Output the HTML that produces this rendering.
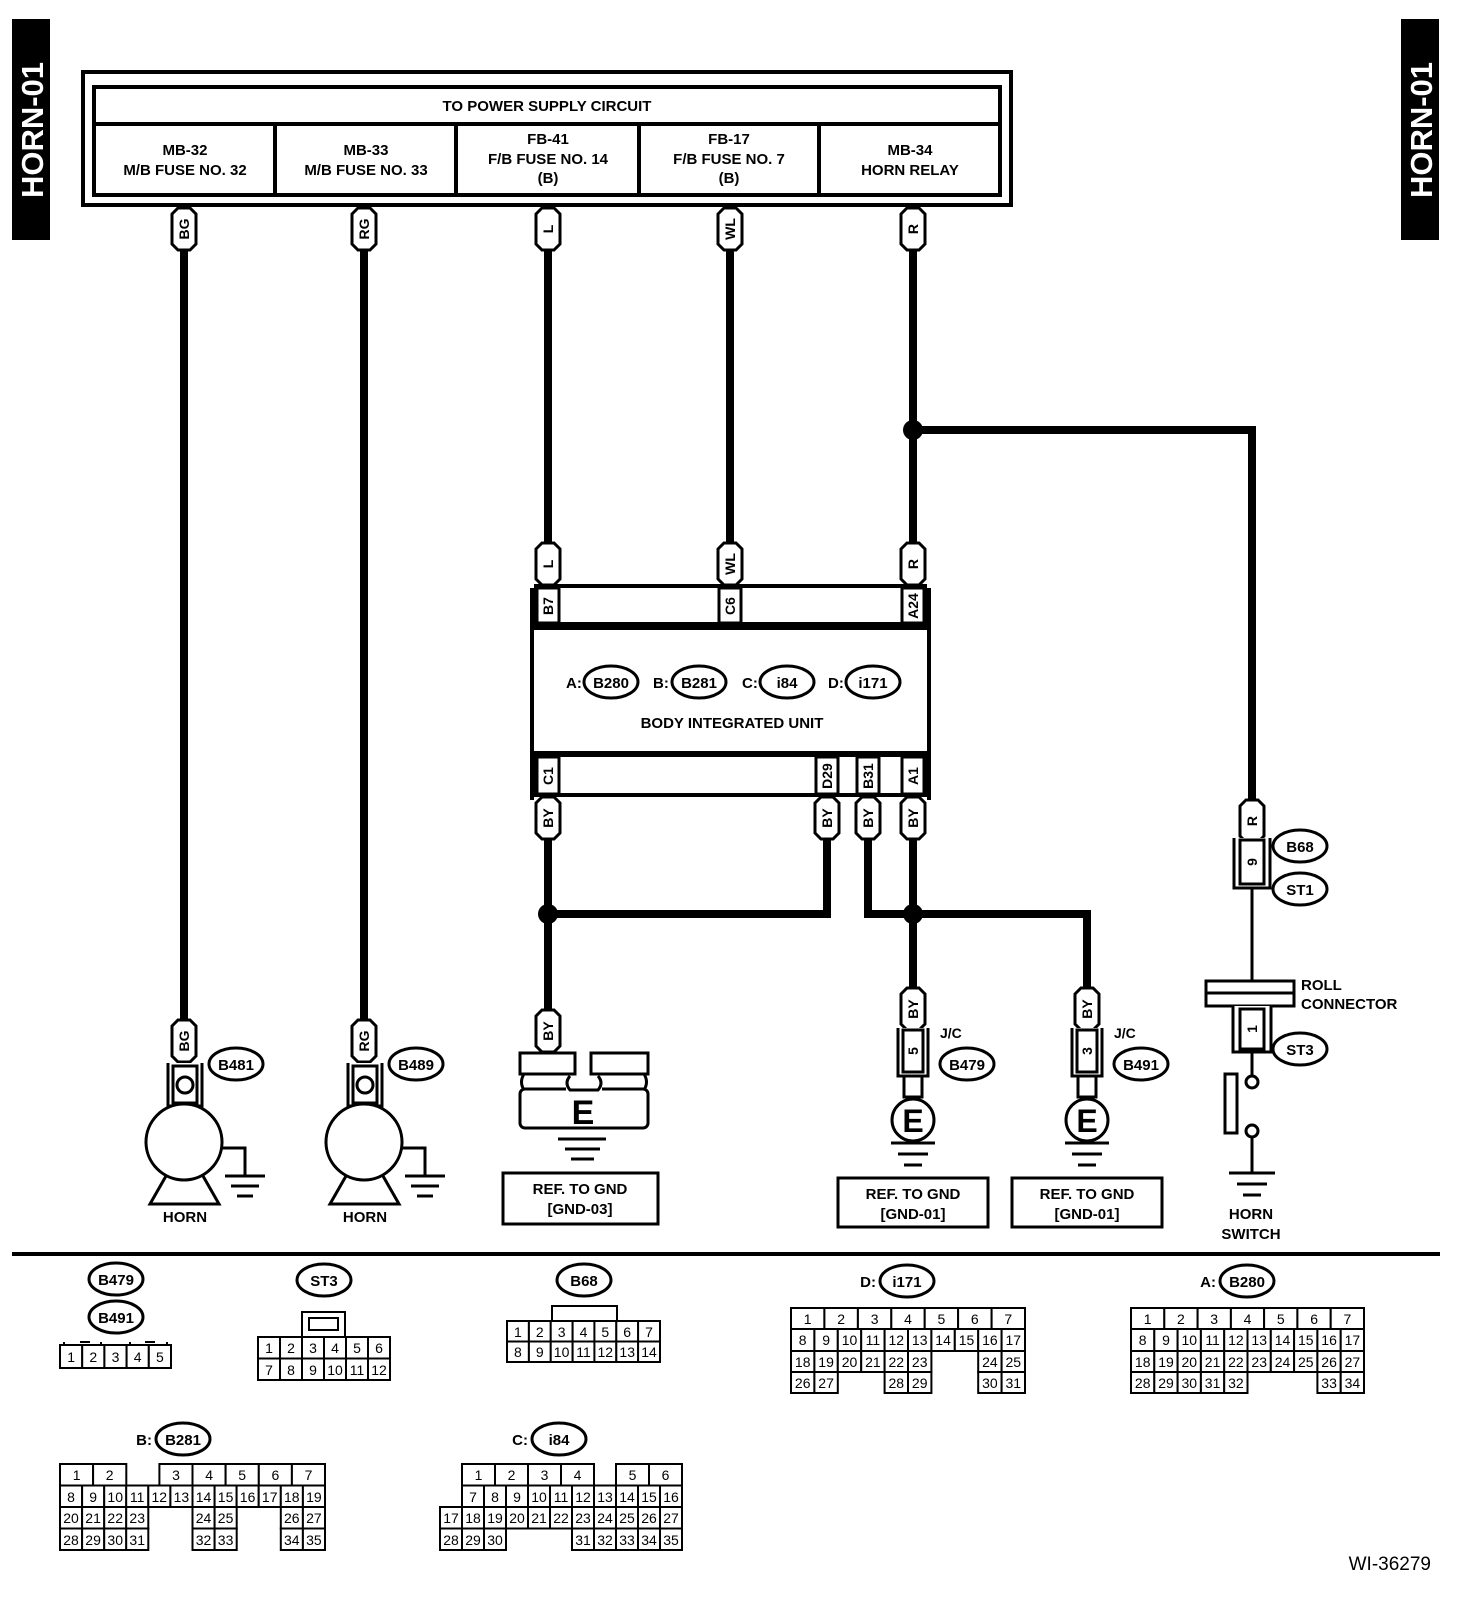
<!DOCTYPE html>
<html><head><meta charset="utf-8">
<style>
html,body{margin:0;padding:0;background:#fff;}
svg{display:block;}
text{font-family:"Liberation Sans",Arial,sans-serif;fill:#000;}
.b{font-weight:bold;font-size:15px;}
.t{font-weight:bold;font-size:14px;}
.n{font-size:14px;}
.w{fill:none;stroke:#000;stroke-width:8;}
.th{fill:none;stroke:#000;stroke-width:3;}
.s{fill:#fff;stroke:#000;stroke-width:3;}
.c rect{fill:#fff;stroke:#000;stroke-width:2;}
.c text{font-size:14px;text-anchor:middle;}
</style></head>
<body>
<svg width="1472" height="1622" viewBox="0 0 1472 1622" xmlns="http://www.w3.org/2000/svg">
<defs>
<g id="tag"><path d="M-12,6 L-6,0 L6,0 L12,6 L12,36 L6,42 L-6,42 L-12,36 Z" fill="#fff" stroke="#000" stroke-width="3"/></g>
</defs>

<rect x="12" y="19" width="38" height="221" fill="#000"/>
<text transform="translate(43,130) rotate(-90)" text-anchor="middle" style="font-weight:bold;font-size:31px;fill:#fff">HORN-01</text>
<rect x="1401" y="19" width="38" height="221" fill="#000"/>
<text transform="translate(1432,130) rotate(-90)" text-anchor="middle" style="font-weight:bold;font-size:31px;fill:#fff">HORN-01</text>

<rect x="83" y="72" width="928" height="133" fill="#fff" stroke="#000" stroke-width="4"/>
<rect x="94" y="87" width="906" height="108" fill="#fff" stroke="#000" stroke-width="4"/>
<line x1="94" y1="124" x2="1000" y2="124" stroke="#000" stroke-width="4"/>
<g stroke="#000" stroke-width="4"><line x1="275" y1="124" x2="275" y2="195"/><line x1="456" y1="124" x2="456" y2="195"/><line x1="639" y1="124" x2="639" y2="195"/><line x1="819" y1="124" x2="819" y2="195"/></g>
<g class="b" text-anchor="middle">
<text x="547" y="111">TO POWER SUPPLY CIRCUIT</text>
<text x="185" y="155">MB-32</text><text x="185" y="175">M/B FUSE NO. 32</text>
<text x="366" y="155">MB-33</text><text x="366" y="175">M/B FUSE NO. 33</text>
<text x="548" y="144">FB-41</text><text x="548" y="164">F/B FUSE NO. 14</text><text x="548" y="183">(B)</text>
<text x="729" y="144">FB-17</text><text x="729" y="164">F/B FUSE NO. 7</text><text x="729" y="183">(B)</text>
<text x="910" y="155">MB-34</text><text x="910" y="175">HORN RELAY</text>
</g>

<g class="w">
<line x1="184" y1="240" x2="184" y2="1020"/>
<line x1="364" y1="240" x2="364" y2="1020"/>
<line x1="548" y1="240" x2="548" y2="545"/>
<line x1="730" y1="240" x2="730" y2="545"/>
<line x1="913" y1="240" x2="913" y2="545"/>
<path d="M913 430 H1252 V805"/>
<line x1="548" y1="830" x2="548" y2="1012"/>
<path d="M827 830 V914 H548"/>
<path d="M868 830 V914 H1087 V992"/>
<line x1="913" y1="830" x2="913" y2="992"/>
</g>
<circle cx="913" cy="430" r="10"/>
<circle cx="548" cy="914" r="10"/>
<circle cx="913" cy="914" r="10"/>

<g>
<use href="#tag" x="184" y="208"/><text transform="translate(189,229) rotate(-90)" class="t" text-anchor="middle">BG</text>
<use href="#tag" x="364" y="208"/><text transform="translate(369,229) rotate(-90)" class="t" text-anchor="middle">RG</text>
<use href="#tag" x="548" y="208"/><text transform="translate(553,229) rotate(-90)" class="t" text-anchor="middle">L</text>
<use href="#tag" x="730" y="208"/><text transform="translate(735,229) rotate(-90)" class="t" text-anchor="middle">WL</text>
<use href="#tag" x="913" y="208"/><text transform="translate(918,229) rotate(-90)" class="t" text-anchor="middle">R</text>
<use href="#tag" x="548" y="543"/><text transform="translate(553,564) rotate(-90)" class="t" text-anchor="middle">L</text>
<use href="#tag" x="730" y="543"/><text transform="translate(735,564) rotate(-90)" class="t" text-anchor="middle">WL</text>
<use href="#tag" x="913" y="543"/><text transform="translate(918,564) rotate(-90)" class="t" text-anchor="middle">R</text>
<use href="#tag" x="548" y="797"/><text transform="translate(553,818) rotate(-90)" class="t" text-anchor="middle">BY</text>
<use href="#tag" x="827" y="797"/><text transform="translate(832,818) rotate(-90)" class="t" text-anchor="middle">BY</text>
<use href="#tag" x="868" y="797"/><text transform="translate(873,818) rotate(-90)" class="t" text-anchor="middle">BY</text>
<use href="#tag" x="913" y="797"/><text transform="translate(918,818) rotate(-90)" class="t" text-anchor="middle">BY</text>
<use href="#tag" x="1252" y="800"/><text transform="translate(1257,821) rotate(-90)" class="t" text-anchor="middle">R</text>
<use href="#tag" x="184" y="1020"/><text transform="translate(189,1041) rotate(-90)" class="t" text-anchor="middle">BG</text>
<use href="#tag" x="364" y="1020"/><text transform="translate(369,1041) rotate(-90)" class="t" text-anchor="middle">RG</text>
<use href="#tag" x="548" y="1010"/><text transform="translate(553,1031) rotate(-90)" class="t" text-anchor="middle">BY</text>
<use href="#tag" x="913" y="988"/><text transform="translate(918,1009) rotate(-90)" class="t" text-anchor="middle">BY</text>
<use href="#tag" x="1087" y="988"/><text transform="translate(1092,1009) rotate(-90)" class="t" text-anchor="middle">BY</text>
</g>

<rect x="536" y="586" width="389" height="38" fill="#fff" stroke="#000" stroke-width="4"/>
<rect x="536" y="755" width="389" height="40" fill="#fff" stroke="#000" stroke-width="4"/>
<line x1="532" y1="588" x2="532" y2="800" stroke="#000" stroke-width="4"/>
<line x1="929" y1="588" x2="929" y2="800" stroke="#000" stroke-width="4"/>
<rect x="532" y="628" width="397" height="125" fill="#fff" stroke="#000" stroke-width="4"/>
<g class="th">
<rect x="537" y="588" width="22" height="35"/><rect x="719" y="588" width="22" height="35"/><rect x="902" y="588" width="22" height="35"/>
<rect x="537" y="757" width="22" height="37"/><rect x="816" y="757" width="22" height="37"/><rect x="857" y="757" width="22" height="37"/><rect x="902" y="757" width="22" height="37"/>
</g>
<g class="t" text-anchor="middle">
<text transform="translate(553,606) rotate(-90)">B7</text>
<text transform="translate(735,606) rotate(-90)">C6</text>
<text transform="translate(918,606) rotate(-90)">A24</text>
<text transform="translate(553,776) rotate(-90)">C1</text>
<text transform="translate(832,776) rotate(-90)">D29</text>
<text transform="translate(873,776) rotate(-90)">B31</text>
<text transform="translate(918,776) rotate(-90)">A1</text>
</g>
<g class="b">
<text x="566" y="688">A:</text><text x="653" y="688">B:</text><text x="742" y="688">C:</text><text x="828" y="688">D:</text>
<text x="732" y="728" text-anchor="middle">BODY INTEGRATED UNIT</text>
</g>

<g fill="#fff" stroke="#000" stroke-width="3">
<ellipse cx="611" cy="682" rx="27" ry="16"/><ellipse cx="699" cy="682" rx="27" ry="16"/><ellipse cx="787" cy="682" rx="27" ry="16"/><ellipse cx="873" cy="682" rx="27" ry="16"/>
<ellipse cx="236" cy="1064" rx="27" ry="16"/><ellipse cx="416" cy="1064" rx="27" ry="16"/>
<ellipse cx="967" cy="1064" rx="27" ry="16"/><ellipse cx="1141" cy="1064" rx="27" ry="16"/>
<ellipse cx="1300" cy="846" rx="27" ry="16"/><ellipse cx="1300" cy="889" rx="27" ry="16"/><ellipse cx="1300" cy="1049" rx="27" ry="16"/>
<ellipse cx="116" cy="1279" rx="27" ry="16"/><ellipse cx="116" cy="1317" rx="27" ry="16"/>
<ellipse cx="324" cy="1280" rx="27" ry="16"/><ellipse cx="584" cy="1280" rx="27" ry="16"/>
<ellipse cx="907" cy="1281" rx="27" ry="16"/><ellipse cx="1247" cy="1281" rx="27" ry="16"/>
<ellipse cx="183" cy="1439" rx="27" ry="16"/><ellipse cx="559" cy="1439" rx="27" ry="16"/>
</g>
<g class="b" text-anchor="middle">
<text x="611" y="688">B280</text><text x="699" y="688">B281</text><text x="787" y="688">i84</text><text x="873" y="688">i171</text>
<text x="236" y="1070">B481</text><text x="416" y="1070">B489</text>
<text x="967" y="1070">B479</text><text x="1141" y="1070">B491</text>
<text x="1300" y="852">B68</text><text x="1300" y="895">ST1</text><text x="1300" y="1055">ST3</text>
<text x="116" y="1285">B479</text><text x="116" y="1323">B491</text>
<text x="324" y="1286">ST3</text><text x="584" y="1286">B68</text>
<text x="907" y="1287">i171</text><text x="1247" y="1287">B280</text>
<text x="183" y="1445">B281</text><text x="559" y="1445">i84</text>
</g>
<g class="b" text-anchor="end">
<text x="876" y="1287">D:</text><text x="1216" y="1287">A:</text><text x="152" y="1445">B:</text><text x="528" y="1445">C:</text>
</g>

<g>
<path d="M168 1063 V1106 H202 V1063" class="s"/>
<rect x="173" y="1066" width="24" height="37" class="s"/>
<circle cx="185" cy="1085" r="8" class="s"/>
<path d="M166 1176 L150 1204 H219 L203 1176" class="s"/>
<circle cx="184" cy="1142" r="38" class="s"/>
<path d="M222 1148 H245 V1176" class="th"/>
<g stroke="#000" stroke-width="3"><line x1="225" y1="1176" x2="265" y2="1176"/><line x1="231" y1="1186" x2="259" y2="1186"/><line x1="237" y1="1196" x2="253" y2="1196"/></g>
<text x="185" y="1222" class="b" text-anchor="middle">HORN</text>
</g>
<g transform="translate(180,0)">
<path d="M168 1063 V1106 H202 V1063" class="s"/>
<rect x="173" y="1066" width="24" height="37" class="s"/>
<circle cx="185" cy="1085" r="8" class="s"/>
<path d="M166 1176 L150 1204 H219 L203 1176" class="s"/>
<circle cx="184" cy="1142" r="38" class="s"/>
<path d="M222 1148 H245 V1176" class="th"/>
<g stroke="#000" stroke-width="3"><line x1="225" y1="1176" x2="265" y2="1176"/><line x1="231" y1="1186" x2="259" y2="1186"/><line x1="237" y1="1196" x2="253" y2="1196"/></g>
<text x="185" y="1222" class="b" text-anchor="middle">HORN</text>
</g>

<path d="M524 1074 q-5 8 0 16 M644 1074 q5 8 0 16" class="th"/>
<rect x="520" y="1089" width="128" height="39" rx="5" class="s"/>
<rect x="566" y="1082" width="36" height="9" fill="#fff"/>
<path d="M570 1076 q-6 7 0 14 H598 q6 -7 0 -14" class="th"/>
<rect x="520" y="1053" width="55" height="21" class="s"/>
<rect x="591" y="1053" width="57" height="21" class="s"/>
<text x="583" y="1124" text-anchor="middle" style="font-weight:bold;font-size:34px">E</text>
<g stroke="#000" stroke-width="3"><line x1="558" y1="1139" x2="606" y2="1139"/><line x1="565" y1="1149" x2="600" y2="1149"/><line x1="571" y1="1159" x2="594" y2="1159"/></g>
<rect x="503" y="1173" width="155" height="51" class="s"/>
<text x="580" y="1194" class="b" text-anchor="middle">REF. TO GND</text>
<text x="580" y="1214" class="b" text-anchor="middle">[GND-03]</text>

<g>
<path d="M898 1028 V1076 H928 V1028" class="s"/>
<rect x="903" y="1030" width="20" height="42" class="s"/>
<text transform="translate(918,1051) rotate(-90)" class="t" text-anchor="middle">5</text>
<rect x="904" y="1076" width="18" height="21" class="s"/>
<circle cx="913" cy="1120" r="21" class="s"/>
<text x="913" y="1132" text-anchor="middle" style="font-weight:bold;font-size:32px">E</text>
<g stroke="#000" stroke-width="3"><line x1="891" y1="1143" x2="935" y2="1143"/><line x1="898" y1="1154" x2="928" y2="1154"/><line x1="904" y1="1165" x2="922" y2="1165"/></g>
<text x="940" y="1038" class="t">J/C</text>
<rect x="838" y="1178" width="150" height="49" class="s"/>
<text x="913" y="1199" class="b" text-anchor="middle">REF. TO GND</text>
<text x="913" y="1219" class="b" text-anchor="middle">[GND-01]</text>
</g>
<g transform="translate(174,0)">
<path d="M898 1028 V1076 H928 V1028" class="s"/>
<rect x="903" y="1030" width="20" height="42" class="s"/>
<text transform="translate(918,1051) rotate(-90)" class="t" text-anchor="middle">3</text>
<rect x="904" y="1076" width="18" height="21" class="s"/>
<circle cx="913" cy="1120" r="21" class="s"/>
<text x="913" y="1132" text-anchor="middle" style="font-weight:bold;font-size:32px">E</text>
<g stroke="#000" stroke-width="3"><line x1="891" y1="1143" x2="935" y2="1143"/><line x1="898" y1="1154" x2="928" y2="1154"/><line x1="904" y1="1165" x2="922" y2="1165"/></g>
<text x="940" y="1038" class="t">J/C</text>
<rect x="838" y="1178" width="150" height="49" class="s"/>
<text x="913" y="1199" class="b" text-anchor="middle">REF. TO GND</text>
<text x="913" y="1219" class="b" text-anchor="middle">[GND-01]</text>
</g>

<g>
<path d="M1234 838 V888 H1270 V838" class="s"/>
<rect x="1240" y="840" width="24" height="44" class="s"/>
<text transform="translate(1257,862) rotate(-90)" class="t" text-anchor="middle">9</text>
<line x1="1252" y1="888" x2="1252" y2="981" stroke="#000" stroke-width="3"/>
<rect x="1206" y="981" width="88" height="12" class="s"/>
<rect x="1206" y="993" width="88" height="13" class="s"/>
<text x="1301" y="990" class="b">ROLL</text>
<text x="1301" y="1009" class="b">CONNECTOR</text>
<path d="M1233 1006 V1052 H1271 V1006" class="s"/>
<rect x="1240" y="1009" width="24" height="40" class="s"/>
<text transform="translate(1257,1029) rotate(-90)" class="t" text-anchor="middle">1</text>
<line x1="1252" y1="1052" x2="1252" y2="1076" stroke="#000" stroke-width="3"/>
<circle cx="1252" cy="1082" r="6" class="s"/>
<rect x="1225" y="1074" width="12" height="59" class="s"/>
<circle cx="1252" cy="1131" r="6" class="s"/>
<line x1="1252" y1="1137" x2="1252" y2="1173" stroke="#000" stroke-width="3"/>
<g stroke="#000" stroke-width="3"><line x1="1229" y1="1173" x2="1275" y2="1173"/><line x1="1237" y1="1184" x2="1267" y2="1184"/><line x1="1243" y1="1195" x2="1261" y2="1195"/></g>
<text x="1251" y="1219" class="b" text-anchor="middle">HORN</text>
<text x="1251" y="1239" class="b" text-anchor="middle">SWITCH</text>
</g>

<line x1="12" y1="1254" x2="1440" y2="1254" stroke="#000" stroke-width="4"/>

<g class="c">
<g stroke="#000" stroke-width="2"><line x1="64" y1="1342" x2="64" y2="1345"/><line x1="80" y1="1342" x2="90" y2="1342"/><line x1="101" y1="1342" x2="101" y2="1345"/><line x1="130" y1="1342" x2="130" y2="1345"/><line x1="145" y1="1342" x2="155" y2="1342"/><line x1="167" y1="1342" x2="167" y2="1345"/></g>
<rect x="60" y="1345" width="22.2" height="23"/><text x="71.1" y="1362">1</text>
<rect x="82.2" y="1345" width="22.2" height="23"/><text x="93.3" y="1362">2</text>
<rect x="104.4" y="1345" width="22.2" height="23"/><text x="115.5" y="1362">3</text>
<rect x="126.6" y="1345" width="22.2" height="23"/><text x="137.7" y="1362">4</text>
<rect x="148.8" y="1345" width="22.2" height="23"/><text x="159.9" y="1362">5</text>
<rect x="302" y="1312" width="43" height="25"/><rect x="309" y="1318" width="29" height="12"/>
<rect x="258" y="1337" width="22" height="21.5"/><text x="269" y="1353">1</text>
<rect x="280" y="1337" width="22" height="21.5"/><text x="291" y="1353">2</text>
<rect x="302" y="1337" width="22" height="21.5"/><text x="313" y="1353">3</text>
<rect x="324" y="1337" width="22" height="21.5"/><text x="335" y="1353">4</text>
<rect x="346" y="1337" width="22" height="21.5"/><text x="357" y="1353">5</text>
<rect x="368" y="1337" width="22" height="21.5"/><text x="379" y="1353">6</text>
<rect x="258" y="1358.5" width="22" height="21.5"/><text x="269" y="1375">7</text>
<rect x="280" y="1358.5" width="22" height="21.5"/><text x="291" y="1375">8</text>
<rect x="302" y="1358.5" width="22" height="21.5"/><text x="313" y="1375">9</text>
<rect x="324" y="1358.5" width="22" height="21.5"/><text x="335" y="1375">10</text>
<rect x="346" y="1358.5" width="22" height="21.5"/><text x="357" y="1375">11</text>
<rect x="368" y="1358.5" width="22" height="21.5"/><text x="379" y="1375">12</text>
<rect x="552" y="1306" width="65" height="15"/>
<rect x="507" y="1321" width="21.9" height="20.5"/><text x="517.9" y="1337">1</text>
<rect x="528.9" y="1321" width="21.9" height="20.5"/><text x="539.8" y="1337">2</text>
<rect x="550.7" y="1321" width="21.9" height="20.5"/><text x="561.6" y="1337">3</text>
<rect x="572.6" y="1321" width="21.9" height="20.5"/><text x="583.5" y="1337">4</text>
<rect x="594.4" y="1321" width="21.9" height="20.5"/><text x="605.3" y="1337">5</text>
<rect x="616.3" y="1321" width="21.9" height="20.5"/><text x="627.2" y="1337">6</text>
<rect x="638.1" y="1321" width="21.9" height="20.5"/><text x="649" y="1337">7</text>
<rect x="507" y="1341.5" width="21.9" height="20.5"/><text x="517.9" y="1357">8</text>
<rect x="528.9" y="1341.5" width="21.9" height="20.5"/><text x="539.8" y="1357">9</text>
<rect x="550.7" y="1341.5" width="21.9" height="20.5"/><text x="561.6" y="1357">10</text>
<rect x="572.6" y="1341.5" width="21.9" height="20.5"/><text x="583.5" y="1357">11</text>
<rect x="594.4" y="1341.5" width="21.9" height="20.5"/><text x="605.3" y="1357">12</text>
<rect x="616.3" y="1341.5" width="21.9" height="20.5"/><text x="627.2" y="1357">13</text>
<rect x="638.1" y="1341.5" width="21.9" height="20.5"/><text x="649" y="1357">14</text>

<rect x="791" y="1308" width="33.4" height="21"/><text x="807.7" y="1324">1</text>
<rect x="824.4" y="1308" width="33.5" height="21"/><text x="841.1" y="1324">2</text>
<rect x="857.9" y="1308" width="33.4" height="21"/><text x="874.6" y="1324">3</text>
<rect x="891.3" y="1308" width="33.4" height="21"/><text x="908" y="1324">4</text>
<rect x="924.7" y="1308" width="33.4" height="21"/><text x="941.4" y="1324">5</text>
<rect x="958.1" y="1308" width="33.5" height="21"/><text x="974.8" y="1324">6</text>
<rect x="991.6" y="1308" width="33.4" height="21"/><text x="1008.3" y="1324">7</text>
<rect x="791" y="1329" width="23.4" height="22"/><text x="802.7" y="1345">8</text>
<rect x="814.4" y="1329" width="23.4" height="22"/><text x="826.1" y="1345">9</text>
<rect x="837.8" y="1329" width="23.4" height="22"/><text x="849.5" y="1345">10</text>
<rect x="861.2" y="1329" width="23.4" height="22"/><text x="872.9" y="1345">11</text>
<rect x="884.6" y="1329" width="23.4" height="22"/><text x="896.3" y="1345">12</text>
<rect x="908" y="1329" width="23.4" height="22"/><text x="919.7" y="1345">13</text>
<rect x="931.4" y="1329" width="23.4" height="22"/><text x="943.1" y="1345">14</text>
<rect x="954.8" y="1329" width="23.4" height="22"/><text x="966.5" y="1345">15</text>
<rect x="978.2" y="1329" width="23.4" height="22"/><text x="989.9" y="1345">16</text>
<rect x="1001.6" y="1329" width="23.4" height="22"/><text x="1013.3" y="1345">17</text>
<rect x="791" y="1351" width="23.4" height="21"/><text x="802.7" y="1367">18</text>
<rect x="814.4" y="1351" width="23.4" height="21"/><text x="826.1" y="1367">19</text>
<rect x="837.8" y="1351" width="23.4" height="21"/><text x="849.5" y="1367">20</text>
<rect x="861.2" y="1351" width="23.4" height="21"/><text x="872.9" y="1367">21</text>
<rect x="884.6" y="1351" width="23.4" height="21"/><text x="896.3" y="1367">22</text>
<rect x="908" y="1351" width="23.4" height="21"/><text x="919.7" y="1367">23</text>
<rect x="978.2" y="1351" width="23.4" height="21"/><text x="989.9" y="1367">24</text>
<rect x="1001.6" y="1351" width="23.4" height="21"/><text x="1013.3" y="1367">25</text>
<rect x="791" y="1372" width="23.4" height="21"/><text x="802.7" y="1388">26</text>
<rect x="814.4" y="1372" width="23.4" height="21"/><text x="826.1" y="1388">27</text>
<rect x="884.6" y="1372" width="23.4" height="21"/><text x="896.3" y="1388">28</text>
<rect x="908" y="1372" width="23.4" height="21"/><text x="919.7" y="1388">29</text>
<rect x="978.2" y="1372" width="23.4" height="21"/><text x="989.9" y="1388">30</text>
<rect x="1001.6" y="1372" width="23.4" height="21"/><text x="1013.3" y="1388">31</text>

<rect x="1131" y="1308" width="33.3" height="21"/><text x="1147.6" y="1324">1</text>
<rect x="1164.3" y="1308" width="33.3" height="21"/><text x="1180.9" y="1324">2</text>
<rect x="1197.6" y="1308" width="33.3" height="21"/><text x="1214.2" y="1324">3</text>
<rect x="1230.9" y="1308" width="33.2" height="21"/><text x="1247.5" y="1324">4</text>
<rect x="1264.1" y="1308" width="33.3" height="21"/><text x="1280.8" y="1324">5</text>
<rect x="1297.4" y="1308" width="33.3" height="21"/><text x="1314.1" y="1324">6</text>
<rect x="1330.7" y="1308" width="33.3" height="21"/><text x="1347.4" y="1324">7</text>
<rect x="1131" y="1329" width="23.3" height="22"/><text x="1142.7" y="1345">8</text>
<rect x="1154.3" y="1329" width="23.3" height="22"/><text x="1166" y="1345">9</text>
<rect x="1177.6" y="1329" width="23.3" height="22"/><text x="1189.3" y="1345">10</text>
<rect x="1200.9" y="1329" width="23.3" height="22"/><text x="1212.6" y="1345">11</text>
<rect x="1224.2" y="1329" width="23.3" height="22"/><text x="1235.9" y="1345">12</text>
<rect x="1247.5" y="1329" width="23.3" height="22"/><text x="1259.2" y="1345">13</text>
<rect x="1270.8" y="1329" width="23.3" height="22"/><text x="1282.5" y="1345">14</text>
<rect x="1294.1" y="1329" width="23.3" height="22"/><text x="1305.8" y="1345">15</text>
<rect x="1317.4" y="1329" width="23.3" height="22"/><text x="1329.1" y="1345">16</text>
<rect x="1340.7" y="1329" width="23.3" height="22"/><text x="1352.4" y="1345">17</text>
<rect x="1131" y="1351" width="23.3" height="21"/><text x="1142.7" y="1367">18</text>
<rect x="1154.3" y="1351" width="23.3" height="21"/><text x="1166" y="1367">19</text>
<rect x="1177.6" y="1351" width="23.3" height="21"/><text x="1189.3" y="1367">20</text>
<rect x="1200.9" y="1351" width="23.3" height="21"/><text x="1212.6" y="1367">21</text>
<rect x="1224.2" y="1351" width="23.3" height="21"/><text x="1235.9" y="1367">22</text>
<rect x="1247.5" y="1351" width="23.3" height="21"/><text x="1259.2" y="1367">23</text>
<rect x="1270.8" y="1351" width="23.3" height="21"/><text x="1282.5" y="1367">24</text>
<rect x="1294.1" y="1351" width="23.3" height="21"/><text x="1305.8" y="1367">25</text>
<rect x="1317.4" y="1351" width="23.3" height="21"/><text x="1329.1" y="1367">26</text>
<rect x="1340.7" y="1351" width="23.3" height="21"/><text x="1352.4" y="1367">27</text>
<rect x="1131" y="1372" width="23.3" height="21"/><text x="1142.7" y="1388">28</text>
<rect x="1154.3" y="1372" width="23.3" height="21"/><text x="1166" y="1388">29</text>
<rect x="1177.6" y="1372" width="23.3" height="21"/><text x="1189.3" y="1388">30</text>
<rect x="1200.9" y="1372" width="23.3" height="21"/><text x="1212.6" y="1388">31</text>
<rect x="1224.2" y="1372" width="23.3" height="21"/><text x="1235.9" y="1388">32</text>
<rect x="1317.4" y="1372" width="23.3" height="21"/><text x="1329.1" y="1388">33</text>
<rect x="1340.7" y="1372" width="23.3" height="21"/><text x="1352.4" y="1388">34</text>

<rect x="60" y="1464" width="33.1" height="21.5"/><text x="76.6" y="1480">1</text>
<rect x="93.1" y="1464" width="33.2" height="21.5"/><text x="109.7" y="1480">2</text>
<rect x="159.4" y="1464" width="33.1" height="21.5"/><text x="176" y="1480">3</text>
<rect x="192.5" y="1464" width="33.1" height="21.5"/><text x="209.1" y="1480">4</text>
<rect x="225.6" y="1464" width="33.2" height="21.5"/><text x="242.2" y="1480">5</text>
<rect x="258.8" y="1464" width="33.1" height="21.5"/><text x="275.4" y="1480">6</text>
<rect x="291.9" y="1464" width="33.1" height="21.5"/><text x="308.5" y="1480">7</text>
<rect x="60" y="1485.5" width="22.1" height="21.5"/><text x="71" y="1502">8</text>
<rect x="82.1" y="1485.5" width="22.1" height="21.5"/><text x="93.1" y="1502">9</text>
<rect x="104.2" y="1485.5" width="22.1" height="21.5"/><text x="115.2" y="1502">10</text>
<rect x="126.2" y="1485.5" width="22.1" height="21.5"/><text x="137.2" y="1502">11</text>
<rect x="148.3" y="1485.5" width="22.1" height="21.5"/><text x="159.3" y="1502">12</text>
<rect x="170.4" y="1485.5" width="22.1" height="21.5"/><text x="181.4" y="1502">13</text>
<rect x="192.5" y="1485.5" width="22.1" height="21.5"/><text x="203.5" y="1502">14</text>
<rect x="214.6" y="1485.5" width="22.1" height="21.5"/><text x="225.6" y="1502">15</text>
<rect x="236.6" y="1485.5" width="22.1" height="21.5"/><text x="247.6" y="1502">16</text>
<rect x="258.7" y="1485.5" width="22.1" height="21.5"/><text x="269.7" y="1502">17</text>
<rect x="280.8" y="1485.5" width="22.1" height="21.5"/><text x="291.8" y="1502">18</text>
<rect x="302.9" y="1485.5" width="22.1" height="21.5"/><text x="313.9" y="1502">19</text>
<rect x="60" y="1507" width="22.1" height="21.5"/><text x="71" y="1523">20</text>
<rect x="82.1" y="1507" width="22.1" height="21.5"/><text x="93.1" y="1523">21</text>
<rect x="104.2" y="1507" width="22.1" height="21.5"/><text x="115.2" y="1523">22</text>
<rect x="126.2" y="1507" width="22.1" height="21.5"/><text x="137.2" y="1523">23</text>
<rect x="192.5" y="1507" width="22.1" height="21.5"/><text x="203.5" y="1523">24</text>
<rect x="214.6" y="1507" width="22.1" height="21.5"/><text x="225.6" y="1523">25</text>
<rect x="280.8" y="1507" width="22.1" height="21.5"/><text x="291.8" y="1523">26</text>
<rect x="302.9" y="1507" width="22.1" height="21.5"/><text x="313.9" y="1523">27</text>
<rect x="60" y="1528.5" width="22.1" height="21.5"/><text x="71" y="1545">28</text>
<rect x="82.1" y="1528.5" width="22.1" height="21.5"/><text x="93.1" y="1545">29</text>
<rect x="104.2" y="1528.5" width="22.1" height="21.5"/><text x="115.2" y="1545">30</text>
<rect x="126.2" y="1528.5" width="22.1" height="21.5"/><text x="137.2" y="1545">31</text>
<rect x="192.5" y="1528.5" width="22.1" height="21.5"/><text x="203.5" y="1545">32</text>
<rect x="214.6" y="1528.5" width="22.1" height="21.5"/><text x="225.6" y="1545">33</text>
<rect x="280.8" y="1528.5" width="22.1" height="21.5"/><text x="291.8" y="1545">34</text>
<rect x="302.9" y="1528.5" width="22.1" height="21.5"/><text x="313.9" y="1545">35</text>

<rect x="462" y="1464" width="33" height="21.5"/><text x="478.5" y="1480">1</text>
<rect x="495" y="1464" width="33" height="21.5"/><text x="511.5" y="1480">2</text>
<rect x="528" y="1464" width="33" height="21.5"/><text x="544.5" y="1480">3</text>
<rect x="561" y="1464" width="33" height="21.5"/><text x="577.5" y="1480">4</text>
<rect x="616" y="1464" width="33" height="21.5"/><text x="632.5" y="1480">5</text>
<rect x="649" y="1464" width="33" height="21.5"/><text x="665.5" y="1480">6</text>
<rect x="462" y="1485.5" width="22" height="21.5"/><text x="473" y="1502">7</text>
<rect x="484" y="1485.5" width="22" height="21.5"/><text x="495" y="1502">8</text>
<rect x="506" y="1485.5" width="22" height="21.5"/><text x="517" y="1502">9</text>
<rect x="528" y="1485.5" width="22" height="21.5"/><text x="539" y="1502">10</text>
<rect x="550" y="1485.5" width="22" height="21.5"/><text x="561" y="1502">11</text>
<rect x="572" y="1485.5" width="22" height="21.5"/><text x="583" y="1502">12</text>
<rect x="594" y="1485.5" width="22" height="21.5"/><text x="605" y="1502">13</text>
<rect x="616" y="1485.5" width="22" height="21.5"/><text x="627" y="1502">14</text>
<rect x="638" y="1485.5" width="22" height="21.5"/><text x="649" y="1502">15</text>
<rect x="660" y="1485.5" width="22" height="21.5"/><text x="671" y="1502">16</text>
<rect x="440" y="1507" width="22" height="21.5"/><text x="451" y="1523">17</text>
<rect x="462" y="1507" width="22" height="21.5"/><text x="473" y="1523">18</text>
<rect x="484" y="1507" width="22" height="21.5"/><text x="495" y="1523">19</text>
<rect x="506" y="1507" width="22" height="21.5"/><text x="517" y="1523">20</text>
<rect x="528" y="1507" width="22" height="21.5"/><text x="539" y="1523">21</text>
<rect x="550" y="1507" width="22" height="21.5"/><text x="561" y="1523">22</text>
<rect x="572" y="1507" width="22" height="21.5"/><text x="583" y="1523">23</text>
<rect x="594" y="1507" width="22" height="21.5"/><text x="605" y="1523">24</text>
<rect x="616" y="1507" width="22" height="21.5"/><text x="627" y="1523">25</text>
<rect x="638" y="1507" width="22" height="21.5"/><text x="649" y="1523">26</text>
<rect x="660" y="1507" width="22" height="21.5"/><text x="671" y="1523">27</text>
<rect x="440" y="1528.5" width="22" height="21.5"/><text x="451" y="1545">28</text>
<rect x="462" y="1528.5" width="22" height="21.5"/><text x="473" y="1545">29</text>
<rect x="484" y="1528.5" width="22" height="21.5"/><text x="495" y="1545">30</text>
<rect x="572" y="1528.5" width="22" height="21.5"/><text x="583" y="1545">31</text>
<rect x="594" y="1528.5" width="22" height="21.5"/><text x="605" y="1545">32</text>
<rect x="616" y="1528.5" width="22" height="21.5"/><text x="627" y="1545">33</text>
<rect x="638" y="1528.5" width="22" height="21.5"/><text x="649" y="1545">34</text>
<rect x="660" y="1528.5" width="22" height="21.5"/><text x="671" y="1545">35</text>
</g>

<text x="1431" y="1570" text-anchor="end" style="font-size:19px">WI-36279</text>
</svg>
</body></html>
